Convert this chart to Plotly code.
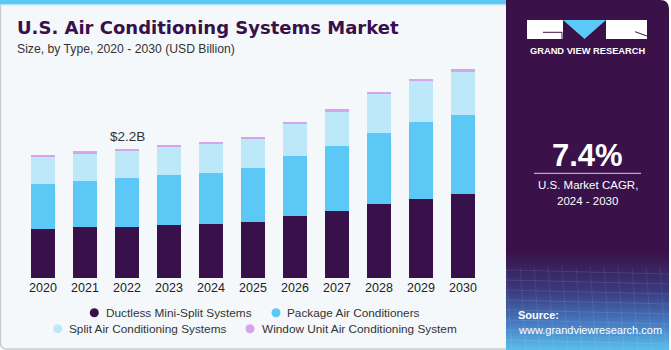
import plotly.graph_objects as go

W, H = 671, 350

years = ["2020", "2021", "2022", "2023", "2024", "2025", "2026", "2027", "2028", "2029", "2030"]
series_names = ["Ductless Mini-Split Systems", "Package Air Conditioners",
                "Split Air Conditioning Systems", "Window Unit Air Conditioning System"]
ductless = [0.83, 0.86, 0.87, 0.90, 0.92, 0.96, 1.06, 1.14, 1.26, 1.35, 1.42]
package = [0.76, 0.79, 0.82, 0.84, 0.86, 0.90, 1.01, 1.10, 1.20, 1.29, 1.35]
split = [0.47, 0.47, 0.47, 0.49, 0.50, 0.50, 0.55, 0.59, 0.66, 0.70, 0.72]
window = [0.02, 0.03, 0.03, 0.03, 0.03, 0.03, 0.03, 0.03, 0.03, 0.03, 0.05]
highlight_year = "2022"
highlight_text = "$2.2B"
cagr_text = "7.4%"

colors = ["#38104A", "#5BC8F5", "#BDE8F9", "#D4A5EA"]
FONT = "Liberation Sans, Arial, sans-serif"
TITLE_FONT = "DejaVu Sans, Liberation Sans, sans-serif"


def px(x):
    return x / W


def py(y):
    return 1 - y / H


fig = go.Figure()
for name, vals, col in zip(series_names, [ductless, package, split, window], colors):
    fig.add_trace(go.Bar(x=years, y=vals, name=name, marker=dict(color=col, line=dict(width=0)),
                         showlegend=False))

shapes = []
# card background (rounded rect)
r = 6
x0, y0, x1, y1 = 0.5, 0.5, 660, 349
path = (f"M {px(x0)} {py(y0)} L {px(x1)} {py(y0)} L {px(x1)} {py(y1)} "
        f"L {px(x0 + r)} {py(y1)} Q {px(x0)} {py(y1)} {px(x0)} {py(y1 - r)} Z")
shapes.append(dict(type="path", xref="paper", yref="paper", path=path,
                   fillcolor="#F4F8FB", line=dict(color="#C8CCD0", width=1.5), layer="below"))
# top stripe
shapes.append(dict(type="rect", xref="paper", yref="paper", x0=px(0), x1=px(506), y0=py(0), y1=py(4.5),
                   fillcolor="#5BC8F5", line=dict(width=0), layer="below"))
shapes.append(dict(type="rect", xref="paper", yref="paper", x0=px(0), x1=px(506), y0=py(4.5), y1=py(5.5),
                   fillcolor="#BDE8F9", line=dict(width=0), layer="below"))
# right panel with rounded top-right corner
pr = 9
px0, px1, py0, py1 = 506, 669, 0, 350
ppath = (f"M {px(px0)} {py(py0)} L {px(px1 - pr)} {py(py0)} Q {px(px1)} {py(py0)} {px(px1)} {py(py0 + pr)} "
         f"L {px(px1)} {py(py1)} L {px(px0)} {py(py1)} Z")
shapes.append(dict(type="path", xref="paper", yref="paper", path=ppath,
                   fillcolor="#3A1149", line=dict(width=0), layer="below"))


# gradient at the bottom of the panel
def hex2rgb(h):
    h = h.lstrip("#")
    return tuple(int(h[i:i + 2], 16) for i in (0, 2, 4))


stops = [(250, "#3A1149"), (290, "#3B3A7E"), (320, "#4676BE"), (350, "#5BC0EE")]
step = 2
yy = 250
while yy < 350:
    for (ya, ca), (yb, cb) in zip(stops[:-1], stops[1:]):
        if ya <= yy < yb:
            t = (yy - ya) / (yb - ya)
            a, b = hex2rgb(ca), hex2rgb(cb)
            c = tuple(int(a[k] + (b[k] - a[k]) * t) for k in range(3))
            break
    shapes.append(dict(type="rect", xref="paper", yref="paper", x0=px(px0), x1=px(px1),
                       y0=py(yy), y1=py(min(yy + step, 350)),
                       fillcolor=f"rgb{c}", line=dict(width=0), layer="below"))
    yy += step
# faint mesh lines
for k in range(8):
    yk = 270 + k * 10
    shapes.append(dict(type="line", xref="paper", yref="paper", x0=px(px0), x1=px(px1),
                       y0=py(yk), y1=py(yk + 4), line=dict(color="rgba(255,255,255,0.10)", width=1),
                       layer="below"))
for k in range(12):
    xk = px0 + k * 14
    shapes.append(dict(type="line", xref="paper", yref="paper", x0=px(xk), x1=px(xk + 6),
                       y0=py(266), y1=py(350), line=dict(color="rgba(255,255,255,0.08)", width=1),
                       layer="below"))

# logo
shapes.append(dict(type="rect", xref="paper", yref="paper", x0=px(527), x1=px(563), y0=py(20), y1=py(39),
                   fillcolor="white", line=dict(width=0)))
shapes.append(dict(type="path", xref="paper", yref="paper",
                   path=f"M {px(563)} {py(20)} L {px(606)} {py(20)} L {px(584.5)} {py(39)} Z",
                   fillcolor="#5BC8F5", line=dict(width=0)))
shapes.append(dict(type="rect", xref="paper", yref="paper", x0=px(606), x1=px(647), y0=py(20), y1=py(39),
                   fillcolor="white", line=dict(width=0)))
shapes.append(dict(type="path", xref="paper", yref="paper",
                   path=f"M {px(543)} {py(32.3)} L {px(562)} {py(32.3)} L {px(562)} {py(39)}",
                   line=dict(color="#3A1149", width=1)))
shapes.append(dict(type="line", xref="paper", yref="paper", x0=px(635), y0=py(31.7), x1=px(647), y1=py(36),
                   line=dict(color="#3A1149", width=1)))
# CAGR divider
shapes.append(dict(type="line", xref="paper", yref="paper", x0=px(534), x1=px(641), y0=py(173.3), y1=py(173.3),
                   line=dict(color="#D8D0DC", width=1)))

annotations = []


def text(x, y, s, size, color, xanchor="left", bold=False, font=FONT):
    annotations.append(dict(xref="paper", yref="paper", x=px(x), y=py(y), text=f"<b>{s}</b>" if bold else s,
                            showarrow=False, xanchor=xanchor, yanchor="middle",
                            font=dict(family=font, size=size, color=color)))


text(15, 28, "U.S. Air Conditioning Systems Market", 18, "#38104A", bold=True, font=TITLE_FONT)
text(15, 48.5, "Size, by Type, 2020 - 2030 (USD Billion)", 12.2, "#333333")
text(587.5, 51, "GRAND VIEW RESEARCH", 9.3, "white", xanchor="center", bold=True)
text(587.5, 155, cagr_text, 31, "white", xanchor="center", bold=True)
text(587.5, 185, "U.S. Market CAGR,", 11.5, "white", xanchor="center")
text(587.5, 201, "2024 - 2030", 11.5, "white", xanchor="center")
text(516, 315, "Source:", 11, "white", bold=True)
text(516, 329.5, "www.grandviewresearch.com", 11, "white")

# highlight annotation
hi = years.index(highlight_year)
total_hi = ductless[hi] + package[hi] + split[hi] + window[hi]
annotations.append(dict(x=hi, y=total_hi, xref="x", yref="y", text=highlight_text, showarrow=False,
                        xanchor="center", yanchor="bottom", yshift=3,
                        font=dict(family=FONT, size=13.5, color="#333333")))

# legend (manual, two centered rows)
legend_pos = [(94.3, 312.7, 105), (276, 312.7, 286), (57.7, 328.7, 68.3), (250, 328.7, 261)]
for name, col, (dx, dy, tx) in zip(series_names, colors, legend_pos):
    shapes.append(dict(type="circle", xref="paper", yref="paper", x0=px(dx - 4.5), x1=px(dx + 4.5),
                       y0=py(dy - 4.5), y1=py(dy + 4.5), fillcolor=col, line=dict(width=0)))
    text(tx - 1, dy, name, 11.8, "#333333")

base_y = 278.3
px_per_b = 59.1
top_y = 60
fig.update_layout(
    width=W, height=H, autosize=False,
    margin=dict(l=0, r=0, t=0, b=0),
    paper_bgcolor="white", plot_bgcolor="rgba(0,0,0,0)",
    barmode="stack", bargap=18 / 42,
    shapes=shapes, annotations=annotations,
    font=dict(family=FONT),
    xaxis=dict(domain=[px(22), px(484)], range=[-0.5, 10.5], type="category", showgrid=False,
               showline=False, ticks="", tickfont=dict(size=12.5, color="#222222"), fixedrange=True),
    yaxis=dict(domain=[py(base_y), py(top_y)], range=[0, (base_y - top_y) / px_per_b], visible=False,
               showgrid=False, zeroline=False, fixedrange=True),
)
fig.write_html("out.html", config={"displayModeBar": False})
